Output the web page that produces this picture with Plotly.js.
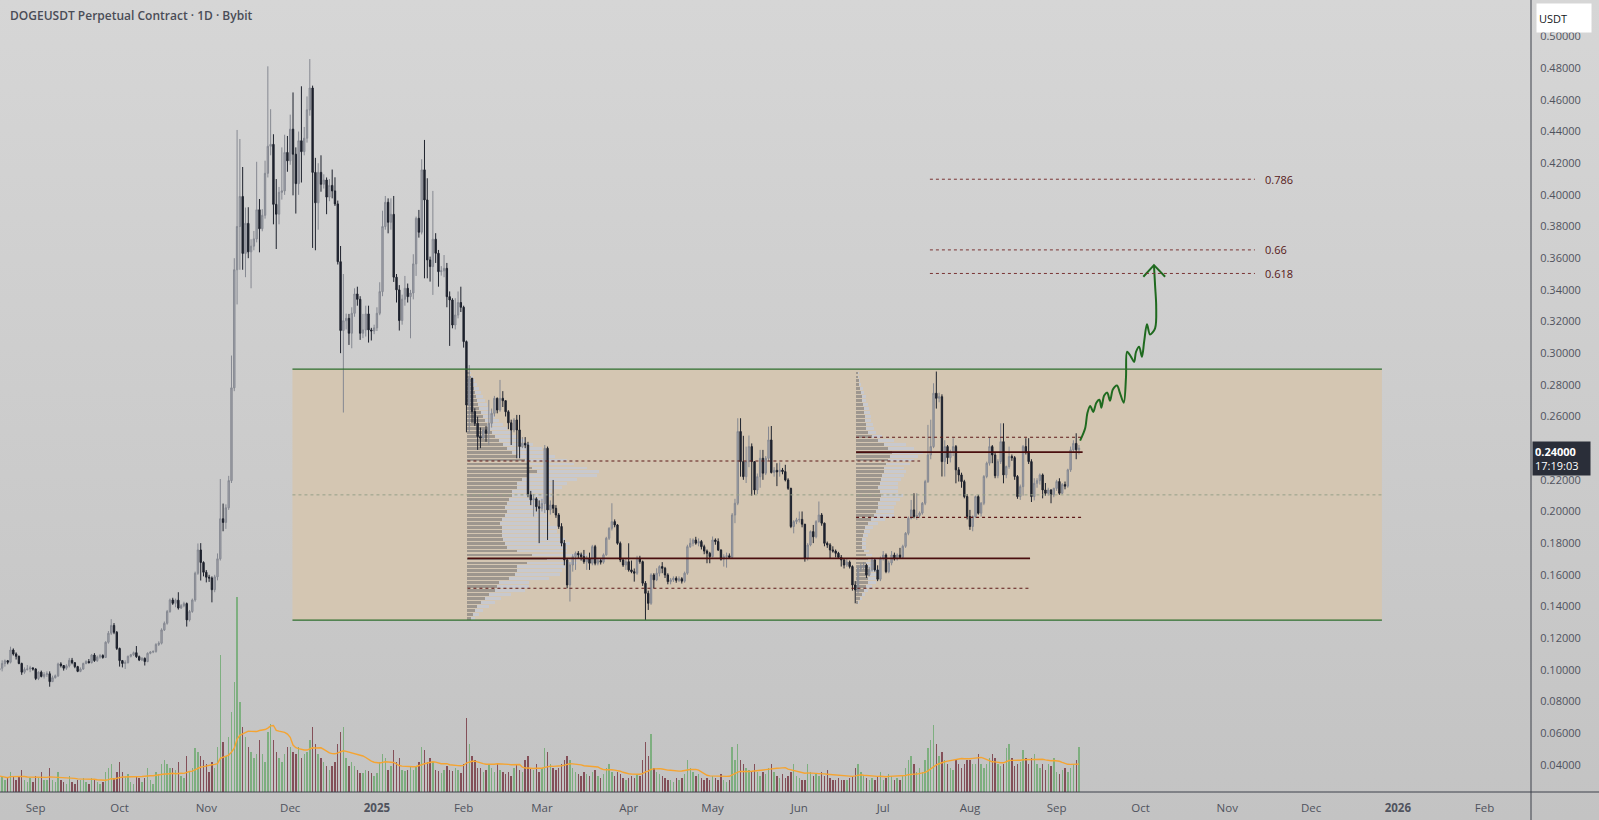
<!DOCTYPE html>
<html><head><meta charset="utf-8">
<script src="https://cdn.plot.ly/plotly-3.0.1.min.js"></script>
<style>
html,body{margin:0;padding:0;width:1599px;height:820px;overflow:hidden;background:linear-gradient(#d6d6d6,#c3c3c3);}
#chart{width:1599px;height:820px;}
</style></head><body><div id="chart"></div>
<script>
// ---------- DATA ----------
const firstDate = '2024-08-19';
const firstOpen = 0.0998;
const closes = [
.1010,.1040,.1057,.1048,.1125,.1100,.1085,.1040,.0985,.1002,
.1005,.1012,.1005,.0945,.0985,.0958,.0970,.0975,.0925,.0950,
.0962,.1037,.1027,.1010,.1025,.1060,.1045,.1020,.0990,.1005,
.1040,.1052,.1045,.1093,.1058,.1080,.1090,.1078,.1174,.1231,
.1280,.1237,.1135,.1058,.1040,.1045,.1085,.1095,.1108,.1083,
.1062,.1072,.1052,.1104,.1112,.1116,.1160,.1168,.1252,.1294,
.1368,.1441,.1420,.1440,.1390,.1405,.1418,.1315,.1368,.1441,
.1610,.1757,.1678,.1616,.1585,.1580,.1506,.1587,.1701,.1954,
.1931,.2023,.2195,.2781,.3527,.3800,.3990,.3630,.3820,.3640,
.3676,.3722,.3906,.3786,.3871,.4136,.4307,.4319,.3940,.3878,
.4016,.4025,.4268,.4215,.4415,.4257,.4071,.4342,.4273,.4358,
.4537,.4675,.4142,.3950,.4142,.4067,.4094,.3986,.4060,.4025,
.3943,.3578,.3143,.3205,.3220,.3126,.3252,.3374,.3340,.3126,
.3147,.3248,.3147,.3140,.3160,.3252,.3389,.3800,.3953,.3827,
.3877,.3480,.3400,.3206,.3341,.3410,.3357,.3380,.3564,.3852,
.3764,.4158,.3968,.3589,.3547,.3720,.3631,.3515,.3520,.3536,
.3357,.3336,.3178,.3241,.3320,.3290,.3073,.2673,.2842,.2631,
.2557,.2473,.2463,.2515,.2494,.2557,.2620,.2715,.2641,.2715,
.2700,.2630,.2560,.2515,.2578,.2515,.2410,.2431,.2420,.2105,
.2073,.2080,.2030,.2020,.2050,.2399,.2010,.2041,.2020,.1978,
.1905,.1800,.1694,.1536,.1662,.1715,.1736,.1726,.1715,.1683,
.1700,.1673,.1778,.1673,.1690,.1680,.1726,.1831,.1894,.1936,
.1915,.1799,.1694,.1662,.1683,.1631,.1620,.1610,.1704,.1683,
.1547,.1483,.1420,.1599,.1568,.1610,.1652,.1641,.1599,.1557,
.1568,.1578,.1565,.1575,.1560,.1610,.1778,.1799,.1820,.1800,
.1810,.1778,.1750,.1736,.1715,.1820,.1810,.1757,.1699,.1715,
.1720,.1710,.1978,.2052,.2505,.2315,.2220,.2315,.2410,.2315,
.2136,.2220,.2336,.2242,.2336,.2452,.2246,.2260,.2250,.2262,
.2252,.2199,.2146,.1905,.1936,.1947,.1950,.1920,.1704,.1788,
.1873,.1840,.1936,.1978,.1926,.1799,.1789,.1757,.1750,.1736,
.1710,.1694,.1662,.1680,.1652,.1536,.1505,.1641,.1652,.1660,
.1600,.1630,.1694,.1631,.1572,.1704,.1725,.1620,.1675,.1725,
.1700,.1725,.1710,.1780,.1862,.1957,.2010,.1968,.1975,.1990,
.2052,.2189,.2357,.2410,.2747,.2715,.2725,.2315,.2410,.2340,
.2378,.2410,.2263,.2231,.2189,.2094,.1968,.1905,.1968,.2094,
.1989,.2052,.2221,.2305,.2410,.2357,.2226,.2315,.2441,.2231,
.2284,.2347,.2340,.2221,.2094,.2157,.2410,.2378,.2315,.2094,
.2178,.2195,.2231,.2136,.2115,.2136,.2105,.2146,.2189,.2115,
.2170,.2160,.2263,.2389,.2430,.2390,.2400];
const highs = [
.1025,.1060,.1065,.1062,.1146,.1135,.1110,.1090,.1045,.1015,
.1030,.1025,.1015,.1010,.0990,.0995,.0985,.0990,.0990,.0963,
.0970,.1045,.1048,.1030,.1035,.1075,.1075,.1048,.1025,.1015,
.1045,.1060,.1068,.1100,.1105,.1090,.1100,.1098,.1180,.1245,
.1320,.1295,.1245,.1140,.1062,.1060,.1090,.1100,.1115,.1150,
.1090,.1080,.1078,.1110,.1118,.1122,.1168,.1180,.1262,.1305,
.1378,.1450,.1455,.1450,.1490,.1415,.1430,.1425,.1378,.1450,
.1620,.1798,.1800,.1685,.1630,.1600,.1590,.1600,.1735,.2205,
.2050,.2045,.2225,.2985,.3600,.4410,.4353,.4176,.3920,.3922,
.3720,.3772,.4209,.3974,.3910,.4216,.4812,.4541,.4383,.4100,
.4050,.4300,.4380,.4372,.4507,.4647,.4300,.4400,.4686,.4429,
.4622,.4858,.4690,.4234,.4200,.4250,.4130,.4110,.4100,.4160,
.4111,.3964,.3677,.3500,.3250,.3248,.3290,.3410,.3420,.3360,
.3248,.3300,.3300,.3160,.3180,.3290,.3448,.3900,.3993,.3978,
.3978,.3993,.3500,.3430,.3370,.3488,.3440,.3400,.3625,.3863,
.3905,.4225,.4347,.4105,.3610,.4025,.3758,.3652,.3550,.3620,
.3570,.3390,.3347,.3347,.3390,.3420,.3300,.3080,.2925,.2831,
.2652,.2599,.2530,.2526,.2540,.2705,.2650,.2730,.2720,.2831,
.2760,.2700,.2640,.2580,.2590,.2610,.2610,.2470,.2470,.2440,
.2130,.2110,.2090,.2070,.2080,.2420,.2410,.2070,.2199,.2040,
.1990,.1926,.1820,.1700,.1680,.1730,.1747,.1750,.1740,.1757,
.1720,.1740,.1789,.1789,.1700,.1700,.1735,.1840,.1900,.2052,
.1950,.1920,.1810,.1700,.1700,.1799,.1690,.1640,.1720,.1720,
.1690,.1560,.1500,.1610,.1610,.1641,.1660,.1680,.1650,.1610,
.1580,.1590,.1590,.1590,.1585,.1620,.1790,.1831,.1830,.1840,
.1830,.1820,.1790,.1760,.1745,.1842,.1830,.1830,.1760,.1730,
.1740,.1735,.1990,.2080,.2589,.2589,.2478,.2410,.2480,.2430,
.2200,.2240,.2389,.2389,.2350,.2536,.2540,.2280,.2305,.2310,
.2275,.2295,.2210,.2150,.1945,.1960,.2000,.2000,.1880,.1800,
.1880,.1915,.1945,.2063,.1990,.1930,.1810,.1800,.1780,.1760,
.1745,.1725,.1700,.1700,.1690,.1660,.1560,.1660,.1670,.1680,
.1670,.1650,.1710,.1705,.1660,.1715,.1750,.1735,.1690,.1750,
.1740,.1735,.1770,.1790,.1870,.1968,.2073,.2115,.2115,.2000,
.2060,.2200,.2547,.2580,.2810,.2884,.2750,.2740,.2450,.2420,
.2390,.2463,.2420,.2280,.2245,.2200,.2110,.2010,.1975,.2100,
.2105,.2060,.2230,.2315,.2470,.2420,.2370,.2330,.2557,.2557,
.2290,.2410,.2360,.2350,.2230,.2170,.2420,.2463,.2463,.2330,
.2210,.2210,.2240,.2240,.2180,.2150,.2140,.2150,.2200,.2210,
.2180,.2189,.2270,.2410,.2450,.2494,.2420];
const lows = [
.0985,.0990,.1020,.1035,.1040,.1090,.1065,.1035,.0968,.0975,
.0995,.0985,.0995,.0935,.0935,.0952,.0945,.0955,.0893,.0925,
.0945,.0955,.1015,.0995,.1000,.1015,.1035,.1010,.0985,.0985,
.1000,.1035,.1040,.1040,.1050,.1050,.1070,.1070,.1075,.1165,
.1220,.1225,.1125,.1020,.1015,.1005,.1040,.1078,.1088,.1075,
.1055,.1055,.1027,.1048,.1098,.1105,.1108,.1150,.1160,.1245,
.1285,.1360,.1410,.1395,.1380,.1385,.1395,.1273,.1305,.1360,
.1430,.1600,.1564,.1590,.1552,.1555,.1426,.1490,.1565,.1690,
.1875,.1890,.2010,.2180,.2760,.3308,.3527,.3527,.3480,.3600,
.3410,.3650,.3700,.3637,.3770,.3850,.4110,.4250,.3814,.3658,
.3814,.3970,.4000,.4146,.4190,.3997,.3882,.4000,.4078,.4250,
.4330,.4500,.3665,.3650,.3780,.4020,.4040,.3878,.3960,.3978,
.3930,.3560,.3000,.2625,.3150,.3052,.3031,.3230,.3300,.3084,
.3095,.3105,.3067,.3080,.3120,.3140,.3240,.3360,.3780,.3757,
.3780,.3450,.3320,.3143,.3180,.3300,.3320,.3094,.3340,.3488,
.3730,.3750,.3473,.3473,.3452,.3368,.3570,.3420,.3490,.3480,
.3290,.3046,.3157,.3150,.3220,.3260,.3035,.2500,.2500,.2560,
.2540,.2389,.2400,.2460,.2440,.2420,.2530,.2600,.2620,.2630,
.2660,.2600,.2520,.2420,.2500,.2336,.2336,.2400,.2400,.2090,
.2040,.1968,.2000,.1800,.2000,.1990,.1820,.1980,.1990,.1960,
.1890,.1780,.1660,.1515,.1431,.1620,.1631,.1700,.1690,.1670,
.1631,.1631,.1660,.1660,.1660,.1665,.1670,.1720,.1820,.1880,
.1900,.1790,.1680,.1650,.1631,.1620,.1610,.1557,.1600,.1670,
.1530,.1315,.1378,.1410,.1515,.1560,.1590,.1610,.1580,.1540,
.1540,.1555,.1550,.1555,.1545,.1550,.1600,.1770,.1780,.1790,
.1780,.1760,.1730,.1673,.1673,.1710,.1790,.1750,.1690,.1652,
.1645,.1700,.1700,.1926,.2040,.2220,.2200,.2180,.2280,.2100,
.2105,.2110,.2150,.2200,.2230,.2320,.2240,.2220,.2160,.2220,
.2235,.2190,.2136,.1895,.1862,.1920,.1930,.1900,.1683,.1690,
.1780,.1800,.1830,.1930,.1910,.1780,.1770,.1704,.1740,.1710,
.1700,.1652,.1640,.1650,.1640,.1500,.1420,.1480,.1620,.1630,
.1580,.1590,.1620,.1620,.1560,.1560,.1690,.1610,.1610,.1660,
.1690,.1690,.1700,.1700,.1770,.1850,.1950,.1957,.1947,.1960,
.1980,.2040,.2180,.2330,.2400,.2650,.2690,.2221,.2221,.2300,
.2310,.2350,.2178,.2189,.2150,.2083,.1950,.1884,.1875,.1960,
.1980,.1968,.2040,.2210,.2290,.2305,.2210,.2210,.2300,.2178,
.2210,.2270,.2320,.2200,.2080,.2073,.2100,.2360,.2300,.2060,
.2070,.2150,.2170,.2083,.2100,.2100,.2052,.2090,.2130,.2105,
.2110,.2140,.2150,.2250,.2370,.2330,.2360];
// daily volume, millions DOGE
const volumes = [
800,750,600,700,1000,800,600,800,1100,600,500,700,500,
800,700,1000,600,600,1200,600,500,1000,600,500,400,800,500,400,600,600,700,500,400,700,600,500,400,500,1000,1200,1400,700,1000,
1500,1000,800,900,500,400,800,700,500,700,1200,600,400,1000,900,1400,1600,1400,1200,1200,1100,1500,800,700,1800,1000,1200,2200,2000,1800,1600,
1400,1000,1500,1200,2250,6850,2500,1800,2750,4000,5500,9750,4500,3250,2750,2250,2000,1700,1900,2600,1900,1500,3000,3400,2600,2000,1700,1500,1900,2250,
2250,2000,1900,2250,1700,1900,2000,2600,3250,2400,1900,1700,1500,1300,1100,1300,1500,2400,3000,3250,1700,1300,1500,1300,1100,950,950,1100,1050,950,800,
950,1500,1900,1700,1100,1300,2100,1500,1700,1100,1050,1100,1300,1100,1300,1500,2250,2100,1500,1700,1500,1100,1050,950,1100,1300,1100,1050,1200,1100,950,
1400,3700,2400,1800,1600,1200,1200,1000,1100,1400,1200,1000,1400,1100,1000,900,1000,800,1200,1400,1100,1000,1600,1800,1200,1100,1400,1000,
1200,2200,2000,1400,1200,1100,1200,1400,1600,1800,1600,1200,1000,900,800,1000,900,800,1000,1100,800,700,900,1200,1400,1000,800,1000,900,700,600,
700,800,700,900,800,1600,2500,1800,2900,1200,1000,900,800,700,600,600,500,700,600,700,900,1600,1200,1000,800,900,700,600,700,600,
800,700,600,900,600,500,600,2250,1600,2400,1600,1400,1200,1100,1000,1400,1000,800,1000,900,1200,1400,1000,800,700,900,700,800,1000,1400,800,
700,600,600,1400,1000,800,900,800,1000,800,1100,700,600,600,700,600,600,600,700,800,1200,1400,1000,800,700,600,700,600,800,1000,
600,700,900,800,600,700,600,800,1200,1600,1800,1400,1000,1200,1000,1600,2200,2600,3350,2400,1800,2000,1600,1400,1200,1100,1600,1400,1200,1400,1600,
1600,1400,1400,1900,1400,1200,1400,1700,1900,1700,1400,1300,1400,2200,2400,1700,1300,1400,1500,2100,1700,1400,1700,1900,1400,1200,1400,1100,1400,1300,1700,
1000,900,1100,1200,1000,1200,1400,1600,2250];
const volMaLength = 20;

// axis ticks (0.24 sits under the live price tag)
const priceTicks = [0.04,0.06,0.08,0.10,0.12,0.14,0.16,0.18,0.20,0.22,0.26,0.28,0.30,0.32,0.34,0.36,0.38,0.40,0.42,0.44,0.46,0.48,0.50];
const monthTickDates = ['2024-09-01','2024-10-01','2024-11-01','2024-12-01','2025-01-01','2025-02-01','2025-03-01','2025-04-01','2025-05-01','2025-06-01','2025-07-01','2025-08-01','2025-09-01','2025-10-01','2025-11-01','2025-12-01','2026-01-01','2026-02-01'];
const monthTickLabels = ['Sep','Oct','Nov','Dec','<b>2025</b>','Feb','Mar','Apr','May','Jun','Jul','Aug','Sep','Oct','Nov','Dec','<b>2026</b>','Feb'];

// range box, fib
const boxTop = 0.2899, boxBottom = 0.1314, boxMid = 0.2105;
const fibLevels = [0.786, 0.66, 0.618];
const fibLabels = ['0.786','0.66','0.618'];
const fibLow = 0.1314, fibHigh = 0.4857;

// fixed range volume profiles (row volume: [down part, up part])
const prof1Low = 0.1325, prof1Step = 0.0025;
const prof1Dark = [4,6,8,10,14,18,22,28,30,32,42,48,50,50,60,80,65,50,40,38,36,35,35,35,33,35,38,40,38,40,42,45,45,50,50,55,60,70,65,62,58,50,45,40,36,32,28,25,22,20,18,16,14,12,11,10,9,8,7,6,5,4,3];
const prof1Light = [4,6,8,12,14,16,22,30,32,30,40,45,45,48,50,60,55,50,60,65,62,58,55,55,50,45,42,40,42,40,38,40,40,45,50,55,70,62,55,45,42,38,36,35,30,26,22,20,18,16,14,12,11,10,9,8,7,6,5,4,3,2,1];
const prof2Low = 0.1425, prof2Step = 0.0025;
const prof2Dark = [2,4,6,8,10,12,12,14,14,12,10,12,10,8,6,6,6,7,8,9,12,15,18,20,22,22,24,25,24,22,24,25,26,28,28,30,32,34,36,32,28,22,16,12,10,10,9,9,8,8,7,6,6,5,4,3,3,2,2];
const prof2Light = [1,2,3,4,6,8,8,10,10,8,8,10,6,5,4,4,4,5,6,8,10,14,20,18,16,18,20,22,18,20,18,20,22,22,20,24,26,28,31,26,22,16,10,8,8,7,6,6,6,5,5,4,4,3,3,2,1,1,1];
const prof1Poc = 0.1704, prof1Vah = 0.2319, prof1Val = 0.1515;
const prof2Poc = 0.2375, prof2Vah = 0.2469, prof2Val = 0.1963;

// projected path drawing (days after 2024-09-01, price)
const waveDays = [373.4,375.2,376,377,378.1,379.2,380.3,381,382,383.1,384.1,385.1,386.6,387.6,389,389.8,390.2,391.6,392.7,393.4,394.5,395.5,396.3,397.3,398.4,400.2,400.6,400.2,399.8];
const wavePrices = [0.2448,0.2526,0.2622,0.2667,0.2629,0.2687,0.2706,0.2655,0.2732,0.2751,0.2700,0.2770,0.2796,0.2751,0.2687,0.2848,0.3009,0.2977,0.2945,0.3009,0.3041,0.2977,0.3074,0.3183,0.3118,0.3157,0.3298,0.3428,0.3556];
const arrowDays = [396.0,399.8,403.8];
const arrowPrices = [0.3483,0.3556,0.3483];

// ---------- BUILD ----------
const DAY = 86400000;
const PX_PER_DAY = 2.797;
function iso(ms){ return new Date(ms).toISOString().slice(0,19).replace('T',' '); }
const t0 = Date.parse(firstDate + 'T00:00:00Z');
const SEP1 = Date.parse('2024-09-01T00:00:00Z');
const dAt = d => iso(SEP1 + d*DAY);
const dates = closes.map((_,i)=>iso(t0 + i*DAY));
const opens = closes.map((c,i)=> i===0 ? firstOpen : closes[i-1]);
const isUp = closes.map((c,i)=> c >= opens[i]);

const volMa = volumes.map((v,i)=>{
  const s = Math.max(0, i-volMaLength+1);
  let sum=0; for(let k=s;k<=i;k++) sum+=volumes[k];
  return sum/(i-s+1);
});

const traces = [];
traces.push({
  type:'candlestick', x:dates, open:opens, high:highs, low:lows, close:closes,
  increasing:{line:{color:'#858891',width:1}, fillcolor:'#a3a5ac'},
  decreasing:{line:{color:'#1e222d',width:1}, fillcolor:'#1e222d'},
  whiskerwidth:0, hoverinfo:'skip', showlegend:false, xaxis:'x', yaxis:'y'
});

const msPerUnit = DAY / PX_PER_DAY;
function addProfile(startDay, low, step, dark, light){
  const ys = dark.map((_,i)=> low + i*step);
  const startMs = SEP1 + startDay*DAY;
  traces.push({type:'bar', orientation:'h', y:ys, x:dark.map(v=>v*msPerUnit),
    base:dark.map(()=>iso(startMs)), width:step*0.72,
    marker:{color:'rgba(108,106,110,0.52)', line:{width:0}}, hoverinfo:'skip', showlegend:false, xaxis:'x', yaxis:'y'});
  traces.push({type:'bar', orientation:'h', y:ys, x:light.map(v=>v*msPerUnit),
    base:dark.map(v=>iso(startMs + v*msPerUnit)), width:step*0.72,
    marker:{color:'rgba(198,201,210,0.85)', line:{width:0}}, hoverinfo:'skip', showlegend:false, xaxis:'x', yaxis:'y'});
}
addProfile(154.35, prof1Low, prof1Step, prof1Dark, prof1Light);
addProfile(293.3, prof2Low, prof2Step, prof2Dark, prof2Light);

traces.push({type:'scatter', mode:'lines', x:waveDays.map(dAt), y:wavePrices,
  line:{color:'#1f6a1f', width:2, shape:'spline', smoothing:0.9}, hoverinfo:'skip', showlegend:false, xaxis:'x', yaxis:'y'});
traces.push({type:'scatter', mode:'lines', x:arrowDays.map(dAt), y:arrowPrices,
  line:{color:'#1f6a1f', width:2}, hoverinfo:'skip', showlegend:false, xaxis:'x', yaxis:'y'});

traces.push({type:'bar', x:dates, y:volumes, width:DAY*0.5,
  marker:{color:isUp.map(u=>u?'rgba(118,172,120,0.9)':'rgba(124,66,76,0.9)'), line:{width:0}},
  hoverinfo:'skip', showlegend:false, xaxis:'x', yaxis:'y2'});
traces.push({type:'scatter', mode:'lines', x:dates, y:volMa,
  line:{color:'#f5a431', width:1.4}, hoverinfo:'skip', showlegend:false, xaxis:'x', yaxis:'y2'});

const shapes = [];
const boxX0 = dAt(91.8), boxX1 = dAt(481.3);
shapes.push({type:'rect', xref:'x', yref:'y', x0:boxX0, x1:boxX1, y0:boxBottom, y1:boxTop, fillcolor:'#d4c6b2', line:{width:0}, layer:'below'});
[boxTop, boxBottom].forEach(p=>shapes.push({type:'line', xref:'x', yref:'y', x0:boxX0, x1:boxX1, y0:p, y1:p, line:{color:'#2d6e2d', width:1.3}}));
shapes.push({type:'line', xref:'x', yref:'y', x0:boxX0, x1:boxX1, y0:boxMid, y1:boxMid, line:{color:'#95a089', width:1, dash:'dot'}});
function hline(p, d0, d1, solid){
  shapes.push({type:'line', xref:'x', yref:'y', x0:dAt(d0), x1:dAt(d1), y0:p, y1:p,
    line: solid ? {color:'#4a0e0e', width:1.6} : {color:'#5c1818', width:1.2, dash:'dot'}});
}
hline(prof1Vah, 154.35, 316.2, false);
hline(prof1Poc, 154.35, 355.5, true);
hline(prof1Val, 154.35, 355.5, false);
hline(prof2Vah, 293.3, 374.3, false);
hline(prof2Poc, 293.3, 374.3, true);
hline(prof2Val, 293.3, 374.3, false);
const fibPrices = fibLevels.map(l=> fibLow + l*(fibHigh-fibLow));
fibPrices.forEach(p=>shapes.push({type:'line', xref:'x', yref:'y', x0:dAt(319.7), x1:dAt(435.9), y0:p, y1:p, line:{color:'#7a3434', width:1, dash:'dot'}}));
shapes.push({type:'line', xref:'paper', yref:'paper', x0:1, x1:1, y0:-0.05, y1:1, line:{color:'#3d404b', width:1}});
shapes.push({type:'line', xref:'paper', yref:'paper', x0:0, x1:1.05, y0:0, y1:0, line:{color:'#3d404b', width:1}});

const annotations = [];
annotations.push({xref:'paper', yref:'paper', x:0.0052, y:0.9798, xanchor:'left', yanchor:'middle', showarrow:false,
  text:'DOGEUSDT Perpetual Contract · 1D · Bybit', font:{family:'Open Sans', size:12, color:'#4a4d57', weight:600}});
fibPrices.forEach((p,i)=>annotations.push({xref:'x', yref:'y', x:dAt(438.7), y:p, xanchor:'left', yanchor:'middle', showarrow:false,
  text:fibLabels[i], font:{family:'Open Sans', size:11, color:'#561818'}}));
annotations.push({xref:'paper', yref:'paper', x:1536/1531, y:1-3/792, xanchor:'left', yanchor:'top', showarrow:false,
  text:'USDT', width:50, height:24, align:'left', bgcolor:'#ffffff', borderpad:2,
  font:{family:'Open Sans', size:11, color:'#131722'}});
annotations.push({xref:'paper', yref:'paper', x:1532/1531, y:1-441/792, xanchor:'left', yanchor:'top', showarrow:false,
  text:'<b>0.24000</b><br>17:19:03', width:53, align:'left', bgcolor:'#2a2e39', borderpad:2,
  font:{family:'Open Sans', size:11, color:'#ffffff'}});

const layout = {
  width:1599, height:820, margin:{l:0, r:68, t:0, b:28},
  paper_bgcolor:'rgba(0,0,0,0)', plot_bgcolor:'rgba(0,0,0,0)',
  showlegend:false, barmode:'overlay', bargap:0,
  xaxis:{type:'date', range:[dAt(-12.76), dAt(534.6)], showgrid:false, zeroline:false, showline:false,
    tickvals:monthTickDates, ticktext:monthTickLabels, ticks:'outside', ticklen:5, tickcolor:'rgba(0,0,0,0)',
    tickfont:{family:'Open Sans', size:11.5, color:'#50535e'}, rangeslider:{visible:false}, fixedrange:true},
  yaxis:{side:'right', range:[0.0228, 0.5231], showgrid:false, zeroline:false, showline:false,
    tickvals:priceTicks, tickformat:'.5f', ticks:'outside', ticklen:6, tickcolor:'rgba(0,0,0,0)',
    tickfont:{family:'Open Sans', size:11, color:'#50535e'}, fixedrange:true},
  yaxis2:{overlaying:'y', range:[0, 39600], visible:false, fixedrange:true},
  shapes:shapes, annotations:annotations
};
Plotly.newPlot('chart', traces, layout, {staticPlot:true, displayModeBar:false});
</script></body></html>
